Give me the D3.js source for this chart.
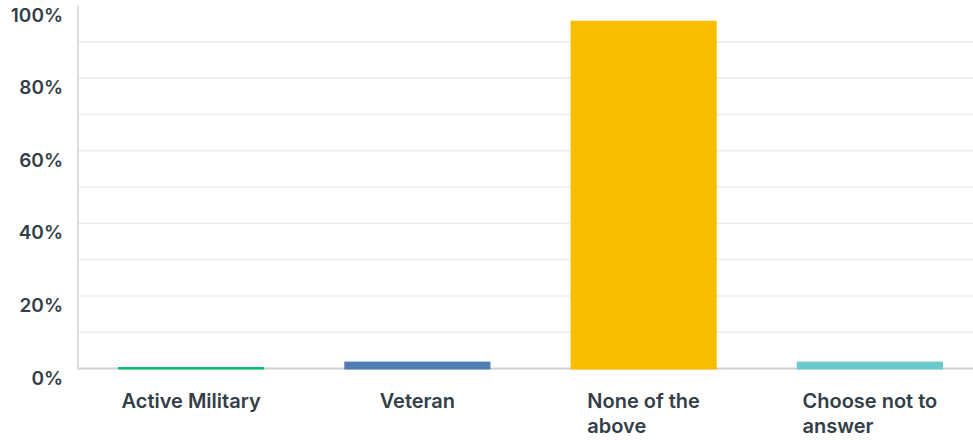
<!DOCTYPE html>
<html>
<head>
<meta charset="utf-8">
<script src="https://cdn.jsdelivr.net/npm/d3@7"></script>
<style>
  body { margin: 0; background: #fff; }
  svg text { font-family: Inter, "Open Sans", sans-serif; font-weight: 600; fill: #333e48; }
</style>
</head>
<body>
<div id="chart"></div>
<script>
// survey answers, percent of respondents
var categories = ["Active Military", "Veteran", "None of the above", "Choose not to answer"];
var percents = [0.4, 1.9, 95.8, 1.9];
var barColors = ["#00bf6f", "#507cb6", "#f9be00", "#6bc8cd"];
var tickValues = [0, 20, 40, 60, 80, 100];
var gridValues = [10, 20, 30, 40, 50, 60, 70, 80, 90];

var width = 973, height = 440;
var margin = {left: 78, top: 5.5, bottom: 368.5};

var svg = d3.select("#chart").append("svg")
    .attr("width", width)
    .attr("height", height);

var x = d3.scaleBand()
    .domain(categories)
    .range([margin.left, 983])
    .paddingInner(0.354)
    .paddingOuter(0.177);

var y = d3.scaleLinear()
    .domain([0, 100])
    .range([margin.bottom, margin.top]);

// light gridlines
svg.append("g").selectAll("line")
    .data(gridValues)
    .enter().append("line")
    .attr("x1", margin.left)
    .attr("x2", width)
    .attr("y1", function(d){ return y(d); })
    .attr("y2", function(d){ return y(d); })
    .attr("stroke", "#ececec")
    .attr("stroke-width", 1.5);

// axis lines
svg.append("line")
    .attr("x1", margin.left).attr("x2", margin.left)
    .attr("y1", y(100)).attr("y2", y(0) + 1)
    .attr("stroke", "#d0d0d0").attr("stroke-width", 1.5);
svg.append("line")
    .attr("x1", margin.left).attr("x2", width)
    .attr("y1", y(0)).attr("y2", y(0))
    .attr("stroke", "#d0d0d0").attr("stroke-width", 2);

// y tick labels sit a bit below their value
svg.append("g").selectAll("text")
    .data(tickValues)
    .enter().append("text")
    .attr("x", 63)
    .attr("y", function(d){ return y(d) + 16; })
    .attr("text-anchor", "end")
    .style("font-size", "19px")
    .text(function(d){ return d + "%"; });

// bars
svg.append("g").selectAll("rect")
    .data(percents)
    .enter().append("rect")
    .attr("x", function(d, i){ return x(categories[i]); })
    .attr("y", function(d){ return y(d); })
    .attr("width", x.bandwidth())
    .attr("height", function(d){ return y(0) - y(d) + 1; })
    .attr("fill", function(d, i){ return barColors[i]; });

// category labels, wrapped; lines left aligned, block centred on the band
var maxW = 155;
categories.forEach(function(cat){
    var t = svg.append("text").style("font-size", "20px");
    var words = cat.split(" ");
    var lines = [], cur = [];
    words.forEach(function(w){
        cur.push(w);
        t.text(cur.join(" "));
        if (t.node().getComputedTextLength() > maxW && cur.length > 1) {
            cur.pop();
            lines.push(cur.join(" "));
            cur = [w];
        }
    });
    lines.push(cur.join(" "));
    t.text(null);
    var spans = lines.map(function(l, i){
        return t.append("tspan").attr("y", 408 + i * 25).text(l);
    });
    var blockW = d3.max(spans, function(s){ return s.node().getComputedTextLength(); });
    var x0 = x(cat) + x.bandwidth() / 2 - blockW / 2;
    spans.forEach(function(s){ s.attr("x", x0); });
});
</script>
</body>
</html>
